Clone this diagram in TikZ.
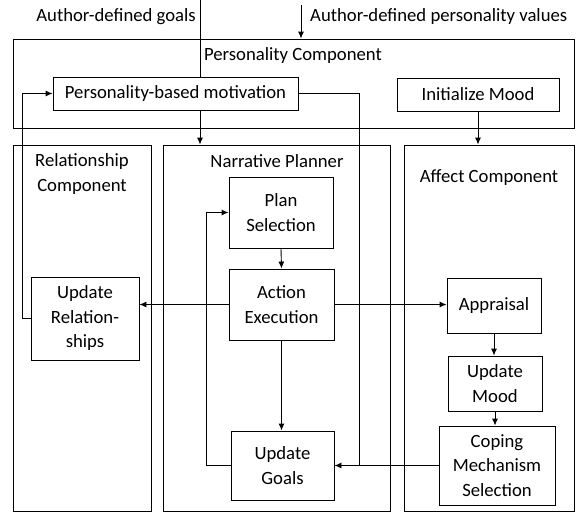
\documentclass[tikz,border=0pt]{standalone}
\usepackage{fontspec}
\setmainfont{Carlito}
\usetikzlibrary{arrows.meta}
\def\lw{0.9pt}
\tikzset{
  box/.style={draw, line width=\lw, inner sep=0pt, align=center},
  lbl/.style={inner sep=0pt, align=center},
  arr/.style={line width=\lw, -{Latex[length=7pt,width=6pt]}},
  ln/.style={line width=\lw}
}
\begin{document}
\begin{tikzpicture}[x=1pt, y=-1pt, font=\fontsize{18.7}{24.5}\selectfont]
\useasboundingbox (0,0) rectangle (578,514);

\node[box, minimum width=561, minimum height=89] (pers) at (293.5,83.5) {};
\node[box, minimum width=138, minimum height=366] (rel) at (82,328) {};
\node[box, minimum width=227, minimum height=366] (narr) at (276.5,328) {};
\node[box, minimum width=170, minimum height=366] (aff) at (489,328) {};

\node[lbl] (perst) at (293,56) {Personality Component};
\node[lbl] (relt) at (82,174) {Relationship\\Component};
\node[lbl] (narrt) at (277,161) {Narrative Planner};
\node[lbl] (afft) at (489,178) {Affect Component};
\node[lbl, anchor=east] (goalst) at (196,17) {Author-defined goals};
\node[lbl, anchor=west] (valt) at (310,17) {Author-defined personality values};

\node[box, minimum width=245, minimum height=33] (motiv) at (175.5,93.5) {Personality-based motivation};
\node[box, minimum width=162, minimum height=33] (initm) at (478,94.5) {Initialize Mood};
\node[box, minimum width=104, minimum height=71] (plan) at (281,212.5) {Plan\\Selection};
\node[box, minimum width=105, minimum height=71] (act) at (281.5,304.5) {Action\\Execution};
\node[box, minimum width=103, minimum height=69] (goals) at (282.5,465.5) {Update\\Goals};
\node[box, minimum width=108, minimum height=83] (updrel) at (85,318.5) {Update\\Relation-\\ships};
\node[box, minimum width=94, minimum height=55] (appr) at (494,305.5) {Appraisal};
\node[box, minimum width=94, minimum height=55] (updm) at (495,383.5) {Update\\Mood};
\node[box, minimum width=116, minimum height=79] (cope) at (497,465.5) {Coping\\Mechanism\\Selection};

\coordinate (gin) at (200,0);
\coordinate (vin) at (301,5);
\coordinate (rback) at (22,318);
\coordinate (gback) at (206,465.5);
\coordinate (mdown) at (359,93.5);

\draw[ln] (gin) -- (gin |- motiv.north);
\draw[arr] (vin) -- (vin |- pers.north);
\draw[arr] (gin |- motiv.south) -- (gin |- narr.north);
\draw[arr] (initm.south) -- (initm.south |- aff.north);
\draw[arr] (plan.south) -- (act.north);
\draw[arr] (act.south) -- (act.south |- goals.north);
\draw[arr] (act.west) -- (act.west -| updrel.east);
\draw[arr] (act.east) -- (act.east -| appr.west);
\draw[arr] (appr.south) -- (appr.south |- updm.north);
\draw[arr] (updm.south) -- (updm.south |- cope.north);
\draw[arr] (cope.west) -- (goals.east);
\draw[arr] (goals.west) -- (gback) |- (plan.west);
\draw[arr] (rback -| updrel.west) -- (rback) |- (motiv.west);
\draw[ln] (motiv.east) -- (mdown) -- (mdown |- goals.east);
\end{tikzpicture}
\end{document}
